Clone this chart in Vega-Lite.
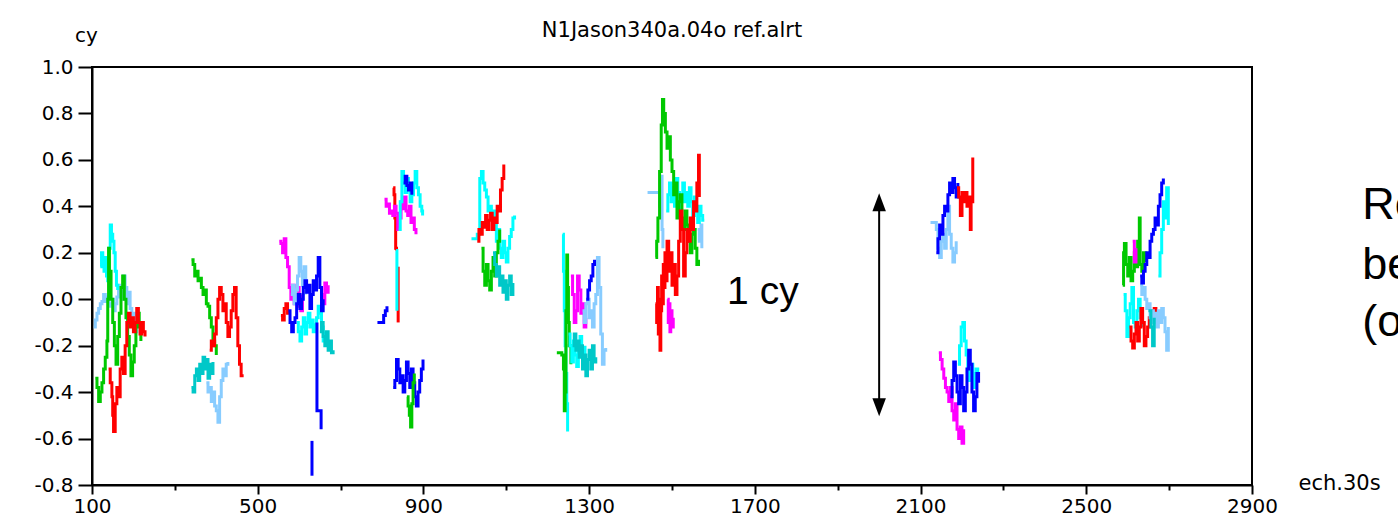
{
"$schema": "https://vega.github.io/schema/vega-lite/v6.json",
"width": 1160, "height": 418,
"autosize": {"type": "none"},
"padding": {"left": 92, "top": 67, "right": 146, "bottom": 38},
"background": "white",
"config": {"view": {"stroke": "black", "strokeWidth": 2}},
"title": {"text": "N1Jason340a.04o ref.alrt", "font": "DejaVu Sans", "fontSize": 21, "fontWeight": "normal", "color": "black", "anchor": "middle", "offset": -16},
"layer": [
{
"data": {"values": [
{"s":"1l","c":"l","x":104,"y":-0.12},{"s":"1l","c":"l","x":108,"y":-0.09},{"s":"1l","c":"l","x":112,"y":-0.06},{"s":"1l","c":"l","x":116,"y":-0.04},{"s":"1l","c":"l","x":120,"y":-0.02},{"s":"1l","c":"l","x":124,"y":-0.01},{"s":"1l","c":"l","x":128,"y":0.02},{"s":"1l","c":"l","x":132,"y":-0.01},{"s":"1l","c":"l","x":136,"y":0.01},{"s":"1l","c":"l","x":140,"y":-0.03},{"s":"1l","c":"l","x":144,"y":-0.02},{"s":"1l","c":"l","x":148,"y":0.0},{"s":"1l","c":"l","x":152,"y":-0.05},{"s":"1l","c":"l","x":156,"y":-0.02},{"s":"1l","c":"l","x":160,"y":0.01},{"s":"1l","c":"l","x":164,"y":0.06},{"s":"1l","c":"l","x":168,"y":0.02},{"s":"1l","c":"l","x":172,"y":0.0},{"s":"1l","c":"l","x":176,"y":0.1},{"s":"1l","c":"l","x":180,"y":0.05},{"s":"1l","c":"l","x":184,"y":-0.02},{"s":"1l","c":"l","x":188,"y":0.03},{"s":"1l","c":"l","x":192,"y":-0.04},{"s":"1l","c":"l","x":196,"y":-0.1},{"s":"1l","c":"l","x":200,"y":-0.06},{"s":"1l","c":"l","x":204,"y":-0.14},{"s":"1l","c":"l","x":208,"y":-0.12},
{"s":"1c","c":"c","x":120,"y":0.14},{"s":"1c","c":"c","x":123,"y":0.2},{"s":"1c","c":"c","x":126,"y":0.16},{"s":"1c","c":"c","x":129,"y":0.12},{"s":"1c","c":"c","x":132,"y":0.18},{"s":"1c","c":"c","x":135,"y":0.1},{"s":"1c","c":"c","x":138,"y":0.08},{"s":"1c","c":"c","x":141,"y":0.22},{"s":"1c","c":"c","x":144,"y":0.32},{"s":"1c","c":"c","x":147,"y":0.28},{"s":"1c","c":"c","x":150,"y":0.25},{"s":"1c","c":"c","x":153,"y":0.2},{"s":"1c","c":"c","x":156,"y":0.12},{"s":"1c","c":"c","x":159,"y":0.06},{"s":"1c","c":"c","x":162,"y":0.04},
{"s":"1g","c":"g","x":108,"y":-0.34},{"s":"1g","c":"g","x":112,"y":-0.38},{"s":"1g","c":"g","x":116,"y":-0.44},{"s":"1g","c":"g","x":120,"y":-0.4},{"s":"1g","c":"g","x":124,"y":-0.36},{"s":"1g","c":"g","x":128,"y":-0.3},{"s":"1g","c":"g","x":132,"y":-0.25},{"s":"1g","c":"g","x":136,"y":-0.18},{"s":"1g","c":"g","x":138,"y":0.0},{"s":"1g","c":"g","x":140,"y":0.22},{"s":"1g","c":"g","x":142,"y":0.12},{"s":"1g","c":"g","x":146,"y":0.0},{"s":"1g","c":"g","x":150,"y":-0.1},{"s":"1g","c":"g","x":154,"y":-0.2},{"s":"1g","c":"g","x":158,"y":-0.28},{"s":"1g","c":"g","x":162,"y":-0.16},{"s":"1g","c":"g","x":166,"y":-0.06},{"s":"1g","c":"g","x":170,"y":0.05},{"s":"1g","c":"g","x":174,"y":0.1},{"s":"1g","c":"g","x":178,"y":0.0},{"s":"1g","c":"g","x":182,"y":-0.08},{"s":"1g","c":"g","x":186,"y":-0.16},{"s":"1g","c":"g","x":190,"y":-0.24},{"s":"1g","c":"g","x":194,"y":-0.33},{"s":"1g","c":"g","x":198,"y":-0.27},{"s":"1g","c":"g","x":202,"y":-0.2},{"s":"1g","c":"g","x":206,"y":-0.12},{"s":"1g","c":"g","x":210,"y":-0.06},{"s":"1g","c":"g","x":214,"y":-0.1},{"s":"1g","c":"g","x":218,"y":-0.18},
{"s":"1r","c":"r","x":140,"y":-0.3},{"s":"1r","c":"r","x":144,"y":-0.36},{"s":"1r","c":"r","x":148,"y":-0.42},{"s":"1r","c":"r","x":150,"y":-0.5},{"s":"1r","c":"r","x":152,"y":-0.57},{"s":"1r","c":"r","x":156,"y":-0.45},{"s":"1r","c":"r","x":160,"y":-0.38},{"s":"1r","c":"r","x":164,"y":-0.42},{"s":"1r","c":"r","x":168,"y":-0.3},{"s":"1r","c":"r","x":172,"y":-0.25},{"s":"1r","c":"r","x":176,"y":-0.32},{"s":"1r","c":"r","x":180,"y":-0.2},{"s":"1r","c":"r","x":184,"y":-0.1},{"s":"1r","c":"r","x":188,"y":-0.06},{"s":"1r","c":"r","x":192,"y":-0.12},{"s":"1r","c":"r","x":196,"y":-0.08},{"s":"1r","c":"r","x":200,"y":-0.14},{"s":"1r","c":"r","x":204,"y":-0.1},{"s":"1r","c":"r","x":208,"y":-0.04},{"s":"1r","c":"r","x":212,"y":-0.1},{"s":"1r","c":"r","x":216,"y":-0.15},{"s":"1r","c":"r","x":220,"y":-0.1},{"s":"1r","c":"r","x":224,"y":-0.14},{"s":"1r","c":"r","x":228,"y":-0.16},
{"s":"2g","c":"g","x":340,"y":0.17},{"s":"2g","c":"g","x":344,"y":0.15},{"s":"2g","c":"g","x":348,"y":0.1},{"s":"2g","c":"g","x":352,"y":0.12},{"s":"2g","c":"g","x":356,"y":0.08},{"s":"2g","c":"g","x":360,"y":0.09},{"s":"2g","c":"g","x":364,"y":0.05},{"s":"2g","c":"g","x":368,"y":0.02},{"s":"2g","c":"g","x":372,"y":0.04},{"s":"2g","c":"g","x":376,"y":-0.02},{"s":"2g","c":"g","x":380,"y":-0.03},{"s":"2g","c":"g","x":384,"y":-0.08},{"s":"2g","c":"g","x":388,"y":-0.12},{"s":"2g","c":"g","x":392,"y":-0.18},{"s":"2g","c":"g","x":396,"y":-0.2},{"s":"2g","c":"g","x":400,"y":-0.24},
{"s":"2r","c":"r","x":384,"y":-0.22},{"s":"2r","c":"r","x":388,"y":-0.18},{"s":"2r","c":"r","x":392,"y":-0.2},{"s":"2r","c":"r","x":396,"y":-0.15},{"s":"2r","c":"r","x":400,"y":-0.08},{"s":"2r","c":"r","x":404,"y":0.0},{"s":"2r","c":"r","x":408,"y":0.05},{"s":"2r","c":"r","x":412,"y":0.02},{"s":"2r","c":"r","x":416,"y":-0.05},{"s":"2r","c":"r","x":420,"y":-0.02},{"s":"2r","c":"r","x":424,"y":-0.1},{"s":"2r","c":"r","x":428,"y":-0.16},{"s":"2r","c":"r","x":432,"y":-0.12},{"s":"2r","c":"r","x":436,"y":-0.05},{"s":"2r","c":"r","x":440,"y":0.02},{"s":"2r","c":"r","x":444,"y":0.05},{"s":"2r","c":"r","x":448,"y":-0.08},{"s":"2r","c":"r","x":452,"y":-0.2},{"s":"2r","c":"r","x":456,"y":-0.28},{"s":"2r","c":"r","x":460,"y":-0.33},{"s":"2r","c":"r","x":466,"y":-0.33},
{"s":"2t","c":"t","x":340,"y":-0.38},{"s":"2t","c":"t","x":344,"y":-0.4},{"s":"2t","c":"t","x":348,"y":-0.33},{"s":"2t","c":"t","x":352,"y":-0.3},{"s":"2t","c":"t","x":356,"y":-0.35},{"s":"2t","c":"t","x":360,"y":-0.28},{"s":"2t","c":"t","x":364,"y":-0.32},{"s":"2t","c":"t","x":368,"y":-0.25},{"s":"2t","c":"t","x":372,"y":-0.3},{"s":"2t","c":"t","x":376,"y":-0.26},{"s":"2t","c":"t","x":380,"y":-0.34},{"s":"2t","c":"t","x":384,"y":-0.28},{"s":"2t","c":"t","x":388,"y":-0.32},{"s":"2t","c":"t","x":392,"y":-0.27},
{"s":"2l","c":"l","x":376,"y":-0.36},{"s":"2l","c":"l","x":380,"y":-0.4},{"s":"2l","c":"l","x":384,"y":-0.38},{"s":"2l","c":"l","x":388,"y":-0.44},{"s":"2l","c":"l","x":392,"y":-0.4},{"s":"2l","c":"l","x":396,"y":-0.46},{"s":"2l","c":"l","x":400,"y":-0.48},{"s":"2l","c":"l","x":404,"y":-0.53},{"s":"2l","c":"l","x":408,"y":-0.42},{"s":"2l","c":"l","x":412,"y":-0.35},{"s":"2l","c":"l","x":416,"y":-0.3},{"s":"2l","c":"l","x":420,"y":-0.33},{"s":"2l","c":"l","x":424,"y":-0.28},{"s":"2l","c":"l","x":428,"y":-0.27},
{"s":"3m1","c":"m","x":552,"y":0.25},{"s":"3m1","c":"m","x":556,"y":0.24},{"s":"3m1","c":"m","x":560,"y":0.2},{"s":"3m1","c":"m","x":564,"y":0.26},{"s":"3m1","c":"m","x":568,"y":0.18},{"s":"3m1","c":"m","x":572,"y":0.14},{"s":"3m1","c":"m","x":576,"y":0.05},{"s":"3m1","c":"m","x":580,"y":0.0},{"s":"3m1","c":"m","x":584,"y":0.06},{"s":"3m1","c":"m","x":588,"y":-0.02},{"s":"3m1","c":"m","x":592,"y":0.02},{"s":"3m1","c":"m","x":596,"y":0.05},{"s":"3m1","c":"m","x":600,"y":-0.03},{"s":"3m1","c":"m","x":604,"y":-0.05},{"s":"3m1","c":"m","x":608,"y":0.02},
{"s":"3m2","c":"m","x":650,"y":0.05},{"s":"3m2","c":"m","x":654,"y":0.02},{"s":"3m2","c":"m","x":658,"y":-0.02},{"s":"3m2","c":"m","x":662,"y":0.07},{"s":"3m2","c":"m","x":666,"y":0.03},{"s":"3m2","c":"m","x":670,"y":0.06},
{"s":"3l","c":"l","x":580,"y":0.02},{"s":"3l","c":"l","x":584,"y":0.06},{"s":"3l","c":"l","x":588,"y":-0.02},{"s":"3l","c":"l","x":592,"y":0.04},{"s":"3l","c":"l","x":596,"y":0.1},{"s":"3l","c":"l","x":600,"y":0.18},{"s":"3l","c":"l","x":604,"y":0.12},{"s":"3l","c":"l","x":608,"y":0.06},{"s":"3l","c":"l","x":612,"y":0.14},{"s":"3l","c":"l","x":616,"y":0.02},
{"s":"3r","c":"r","x":556,"y":-0.07},{"s":"3r","c":"r","x":560,"y":-0.09},{"s":"3r","c":"r","x":564,"y":-0.04},{"s":"3r","c":"r","x":568,"y":-0.02},{"s":"3r","c":"r","x":572,"y":-0.06},{"s":"3r","c":"r","x":576,"y":-0.05},
{"s":"3c","c":"c","x":594,"y":-0.1},{"s":"3c","c":"c","x":598,"y":-0.14},{"s":"3c","c":"c","x":602,"y":-0.18},{"s":"3c","c":"c","x":606,"y":-0.12},{"s":"3c","c":"c","x":610,"y":-0.08},{"s":"3c","c":"c","x":614,"y":-0.15},{"s":"3c","c":"c","x":618,"y":-0.1},{"s":"3c","c":"c","x":622,"y":-0.06},{"s":"3c","c":"c","x":626,"y":-0.12},{"s":"3c","c":"c","x":630,"y":-0.09},{"s":"3c","c":"c","x":634,"y":-0.14},{"s":"3c","c":"c","x":638,"y":-0.11},{"s":"3c","c":"c","x":642,"y":-0.08},{"s":"3c","c":"c","x":646,"y":-0.03},{"s":"3c","c":"c","x":650,"y":-0.06},{"s":"3c","c":"c","x":654,"y":-0.12},{"s":"3c","c":"c","x":658,"y":-0.18},{"s":"3c","c":"c","x":662,"y":-0.14},
{"s":"3b1","c":"b","x":574,"y":-0.05},{"s":"3b1","c":"b","x":578,"y":-0.1},{"s":"3b1","c":"b","x":582,"y":-0.14},{"s":"3b1","c":"b","x":586,"y":-0.1},{"s":"3b1","c":"b","x":590,"y":-0.08},{"s":"3b1","c":"b","x":594,"y":-0.02},{"s":"3b1","c":"b","x":598,"y":0.02},{"s":"3b1","c":"b","x":602,"y":-0.04},{"s":"3b1","c":"b","x":606,"y":0.0},{"s":"3b1","c":"b","x":610,"y":0.05},{"s":"3b1","c":"b","x":614,"y":0.08},{"s":"3b1","c":"b","x":618,"y":0.03},{"s":"3b1","c":"b","x":622,"y":0.06},{"s":"3b1","c":"b","x":626,"y":-0.04},{"s":"3b1","c":"b","x":630,"y":0.02},{"s":"3b1","c":"b","x":634,"y":0.08},{"s":"3b1","c":"b","x":638,"y":0.04},{"s":"3b1","c":"b","x":642,"y":0.1},{"s":"3b1","c":"b","x":646,"y":0.18},{"s":"3b1","c":"b","x":650,"y":0.05},{"s":"3b1","c":"b","x":654,"y":-0.05},{"s":"3b1","c":"b","x":658,"y":0.0},
{"s":"3b2","c":"b","x":643,"y":-0.1},{"s":"3b2","c":"b","x":643,"y":-0.48},{"s":"3b2","c":"b","x":653,"y":-0.49},{"s":"3b2","c":"b","x":653,"y":-0.56},
{"s":"3b3","c":"b","x":631,"y":-0.61},{"s":"3b3","c":"b","x":631,"y":-0.76},
{"s":"3t","c":"t","x":650,"y":-0.14},{"s":"3t","c":"t","x":654,"y":-0.1},{"s":"3t","c":"t","x":658,"y":-0.16},{"s":"3t","c":"t","x":662,"y":-0.2},{"s":"3t","c":"t","x":666,"y":-0.14},{"s":"3t","c":"t","x":670,"y":-0.22},{"s":"3t","c":"t","x":674,"y":-0.18},{"s":"3t","c":"t","x":678,"y":-0.23},{"s":"3t","c":"t","x":682,"y":-0.22},
{"s":"4b0","c":"b","x":789,"y":-0.1},{"s":"4b0","c":"b","x":794,"y":-0.1},{"s":"4b0","c":"b","x":800,"y":-0.1},{"s":"4b0","c":"b","x":804,"y":-0.07},{"s":"4b0","c":"b","x":808,"y":-0.05},{"s":"4b0","c":"b","x":812,"y":-0.03},
{"s":"4r1","c":"r","x":827,"y":0.48},{"s":"4r1","c":"r","x":829,"y":0.45},{"s":"4r1","c":"r","x":831,"y":0.35},{"s":"4r1","c":"r","x":833,"y":0.22},{"s":"4r1","c":"r","x":835,"y":0.21},
{"s":"4r2","c":"r","x":839,"y":0.14},{"s":"4r2","c":"r","x":839,"y":-0.1},
{"s":"4c1","c":"c","x":834,"y":0.21},{"s":"4c1","c":"c","x":836,"y":0.14},{"s":"4c1","c":"c","x":836,"y":-0.05},
{"s":"4m","c":"m","x":806,"y":0.43},{"s":"4m","c":"m","x":810,"y":0.4},{"s":"4m","c":"m","x":814,"y":0.41},{"s":"4m","c":"m","x":818,"y":0.37},{"s":"4m","c":"m","x":822,"y":0.38},{"s":"4m","c":"m","x":826,"y":0.36},{"s":"4m","c":"m","x":830,"y":0.4},{"s":"4m","c":"m","x":834,"y":0.37},{"s":"4m","c":"m","x":838,"y":0.3},{"s":"4m","c":"m","x":842,"y":0.35},{"s":"4m","c":"m","x":846,"y":0.42},{"s":"4m","c":"m","x":850,"y":0.39},{"s":"4m","c":"m","x":854,"y":0.44},{"s":"4m","c":"m","x":858,"y":0.38},{"s":"4m","c":"m","x":862,"y":0.36},{"s":"4m","c":"m","x":866,"y":0.4},{"s":"4m","c":"m","x":870,"y":0.33},{"s":"4m","c":"m","x":874,"y":0.35},{"s":"4m","c":"m","x":878,"y":0.3},{"s":"4m","c":"m","x":882,"y":0.28},
{"s":"4c2","c":"c","x":840,"y":0.3},{"s":"4c2","c":"c","x":844,"y":0.42},{"s":"4c2","c":"c","x":848,"y":0.55},{"s":"4c2","c":"c","x":852,"y":0.5},{"s":"4c2","c":"c","x":856,"y":0.46},{"s":"4c2","c":"c","x":860,"y":0.52},{"s":"4c2","c":"c","x":864,"y":0.48},{"s":"4c2","c":"c","x":868,"y":0.42},{"s":"4c2","c":"c","x":872,"y":0.45},{"s":"4c2","c":"c","x":876,"y":0.5},{"s":"4c2","c":"c","x":880,"y":0.55},{"s":"4c2","c":"c","x":884,"y":0.48},{"s":"4c2","c":"c","x":888,"y":0.45},{"s":"4c2","c":"c","x":892,"y":0.4},{"s":"4c2","c":"c","x":896,"y":0.38},{"s":"4c2","c":"c","x":898,"y":0.36},
{"s":"4b1","c":"b","x":852,"y":0.5},{"s":"4b1","c":"b","x":856,"y":0.53},{"s":"4b1","c":"b","x":860,"y":0.49},{"s":"4b1","c":"b","x":864,"y":0.47},{"s":"4b1","c":"b","x":868,"y":0.5},{"s":"4b1","c":"b","x":872,"y":0.45},
{"s":"4b2","c":"b","x":827,"y":-0.38},{"s":"4b2","c":"b","x":831,"y":-0.35},{"s":"4b2","c":"b","x":835,"y":-0.26},{"s":"4b2","c":"b","x":839,"y":-0.3},{"s":"4b2","c":"b","x":843,"y":-0.36},{"s":"4b2","c":"b","x":847,"y":-0.33},{"s":"4b2","c":"b","x":851,"y":-0.4},{"s":"4b2","c":"b","x":855,"y":-0.35},{"s":"4b2","c":"b","x":859,"y":-0.27},{"s":"4b2","c":"b","x":863,"y":-0.32},{"s":"4b2","c":"b","x":867,"y":-0.38},{"s":"4b2","c":"b","x":871,"y":-0.3},{"s":"4b2","c":"b","x":875,"y":-0.36},{"s":"4b2","c":"b","x":879,"y":-0.42},{"s":"4b2","c":"b","x":883,"y":-0.46},{"s":"4b2","c":"b","x":887,"y":-0.4},{"s":"4b2","c":"b","x":891,"y":-0.35},{"s":"4b2","c":"b","x":895,"y":-0.3},{"s":"4b2","c":"b","x":899,"y":-0.26},
{"s":"4g","c":"g","x":860,"y":-0.42},{"s":"4g","c":"g","x":863,"y":-0.46},{"s":"4g","c":"g","x":866,"y":-0.5},{"s":"4g","c":"g","x":869,"y":-0.55},{"s":"4g","c":"g","x":872,"y":-0.45},{"s":"4g","c":"g","x":875,"y":-0.36},{"s":"4g","c":"g","x":878,"y":-0.32},
{"s":"5c","c":"c","x":1016,"y":0.26},{"s":"5c","c":"c","x":1024,"y":0.26},{"s":"5c","c":"c","x":1030,"y":0.28},{"s":"5c","c":"c","x":1036,"y":0.52},{"s":"5c","c":"c","x":1040,"y":0.55},{"s":"5c","c":"c","x":1044,"y":0.5},{"s":"5c","c":"c","x":1048,"y":0.47},{"s":"5c","c":"c","x":1052,"y":0.44},{"s":"5c","c":"c","x":1056,"y":0.38},{"s":"5c","c":"c","x":1060,"y":0.4},{"s":"5c","c":"c","x":1064,"y":0.35},{"s":"5c","c":"c","x":1068,"y":0.38},{"s":"5c","c":"c","x":1072,"y":0.32},{"s":"5c","c":"c","x":1076,"y":0.25},{"s":"5c","c":"c","x":1080,"y":0.3},{"s":"5c","c":"c","x":1084,"y":0.22},{"s":"5c","c":"c","x":1088,"y":0.18},{"s":"5c","c":"c","x":1092,"y":0.25},{"s":"5c","c":"c","x":1096,"y":0.2},{"s":"5c","c":"c","x":1100,"y":0.16},{"s":"5c","c":"c","x":1104,"y":0.22},{"s":"5c","c":"c","x":1108,"y":0.27},{"s":"5c","c":"c","x":1112,"y":0.3},{"s":"5c","c":"c","x":1116,"y":0.35},{"s":"5c","c":"c","x":1120,"y":0.36},
{"s":"5g","c":"g","x":1040,"y":0.22},{"s":"5g","c":"g","x":1044,"y":0.12},{"s":"5g","c":"g","x":1048,"y":0.06},{"s":"5g","c":"g","x":1052,"y":0.15},{"s":"5g","c":"g","x":1056,"y":0.08},{"s":"5g","c":"g","x":1060,"y":0.04},{"s":"5g","c":"g","x":1064,"y":0.12},{"s":"5g","c":"g","x":1068,"y":0.18},{"s":"5g","c":"g","x":1072,"y":0.1},{"s":"5g","c":"g","x":1076,"y":0.2},{"s":"5g","c":"g","x":1080,"y":0.25},{"s":"5g","c":"g","x":1084,"y":0.3},
{"s":"5r","c":"r","x":1030,"y":0.25},{"s":"5r","c":"r","x":1034,"y":0.3},{"s":"5r","c":"r","x":1038,"y":0.28},{"s":"5r","c":"r","x":1042,"y":0.33},{"s":"5r","c":"r","x":1046,"y":0.31},{"s":"5r","c":"r","x":1050,"y":0.36},{"s":"5r","c":"r","x":1054,"y":0.3},{"s":"5r","c":"r","x":1058,"y":0.34},{"s":"5r","c":"r","x":1062,"y":0.37},{"s":"5r","c":"r","x":1066,"y":0.3},{"s":"5r","c":"r","x":1070,"y":0.35},{"s":"5r","c":"r","x":1074,"y":0.33},{"s":"5r","c":"r","x":1078,"y":0.4},{"s":"5r","c":"r","x":1082,"y":0.38},{"s":"5r","c":"r","x":1086,"y":0.47},{"s":"5r","c":"r","x":1090,"y":0.52},{"s":"5r","c":"r","x":1094,"y":0.58},
{"s":"5t","c":"t","x":1068,"y":0.2},{"s":"5t","c":"t","x":1072,"y":0.15},{"s":"5t","c":"t","x":1076,"y":0.1},{"s":"5t","c":"t","x":1080,"y":0.14},{"s":"5t","c":"t","x":1084,"y":0.06},{"s":"5t","c":"t","x":1088,"y":0.1},{"s":"5t","c":"t","x":1092,"y":0.03},{"s":"5t","c":"t","x":1096,"y":0.08},{"s":"5t","c":"t","x":1100,"y":0.0},{"s":"5t","c":"t","x":1104,"y":0.06},{"s":"5t","c":"t","x":1108,"y":0.1},{"s":"5t","c":"t","x":1112,"y":0.02},{"s":"5t","c":"t","x":1116,"y":0.07},
{"s":"6c1","c":"c","x":1236,"y":0.28},{"s":"6c1","c":"c","x":1238,"y":0.12},{"s":"6c1","c":"c","x":1240,"y":-0.05},{"s":"6c1","c":"c","x":1242,"y":-0.2},{"s":"6c1","c":"c","x":1244,"y":-0.32},{"s":"6c1","c":"c","x":1246,"y":-0.45},{"s":"6c1","c":"c","x":1248,"y":-0.57},
{"s":"6g","c":"g","x":1222,"y":-0.23},{"s":"6g","c":"g","x":1228,"y":-0.23},{"s":"6g","c":"g","x":1234,"y":-0.24},{"s":"6g","c":"g","x":1238,"y":-0.3},{"s":"6g","c":"g","x":1240,"y":-0.48},{"s":"6g","c":"g","x":1242,"y":-0.4},{"s":"6g","c":"g","x":1244,"y":-0.05},{"s":"6g","c":"g","x":1246,"y":0.19},{"s":"6g","c":"g","x":1248,"y":0.05},{"s":"6g","c":"g","x":1250,"y":-0.1},{"s":"6g","c":"g","x":1252,"y":-0.2},{"s":"6g","c":"g","x":1256,"y":-0.28},
{"s":"6c2","c":"c","x":1250,"y":-0.15},{"s":"6c2","c":"c","x":1254,"y":-0.2},{"s":"6c2","c":"c","x":1258,"y":-0.27},{"s":"6c2","c":"c","x":1262,"y":-0.18},{"s":"6c2","c":"c","x":1266,"y":-0.24},{"s":"6c2","c":"c","x":1270,"y":-0.29},{"s":"6c2","c":"c","x":1274,"y":-0.2},{"s":"6c2","c":"c","x":1278,"y":-0.16},{"s":"6c2","c":"c","x":1282,"y":-0.22},{"s":"6c2","c":"c","x":1286,"y":-0.26},{"s":"6c2","c":"c","x":1290,"y":-0.2},
{"s":"6m","c":"m","x":1256,"y":0.1},{"s":"6m","c":"m","x":1260,"y":0.02},{"s":"6m","c":"m","x":1264,"y":-0.1},{"s":"6m","c":"m","x":1268,"y":-0.05},{"s":"6m","c":"m","x":1272,"y":0.1},{"s":"6m","c":"m","x":1276,"y":0.04},{"s":"6m","c":"m","x":1280,"y":-0.06},{"s":"6m","c":"m","x":1284,"y":-0.02},{"s":"6m","c":"m","x":1288,"y":-0.12},{"s":"6m","c":"m","x":1292,"y":-0.08},
{"s":"6t","c":"t","x":1260,"y":-0.2},{"s":"6t","c":"t","x":1264,"y":-0.15},{"s":"6t","c":"t","x":1268,"y":-0.22},{"s":"6t","c":"t","x":1272,"y":-0.18},{"s":"6t","c":"t","x":1276,"y":-0.25},{"s":"6t","c":"t","x":1280,"y":-0.2},{"s":"6t","c":"t","x":1284,"y":-0.3},{"s":"6t","c":"t","x":1288,"y":-0.24},{"s":"6t","c":"t","x":1292,"y":-0.33},{"s":"6t","c":"t","x":1296,"y":-0.26},{"s":"6t","c":"t","x":1300,"y":-0.22},{"s":"6t","c":"t","x":1304,"y":-0.3},{"s":"6t","c":"t","x":1308,"y":-0.2},{"s":"6t","c":"t","x":1312,"y":-0.27},{"s":"6t","c":"t","x":1316,"y":-0.25},
{"s":"6l","c":"l","x":1284,"y":-0.05},{"s":"6l","c":"l","x":1288,"y":-0.1},{"s":"6l","c":"l","x":1292,"y":-0.02},{"s":"6l","c":"l","x":1296,"y":0.0},{"s":"6l","c":"l","x":1300,"y":-0.08},{"s":"6l","c":"l","x":1304,"y":-0.05},{"s":"6l","c":"l","x":1308,"y":-0.12},{"s":"6l","c":"l","x":1312,"y":-0.02},{"s":"6l","c":"l","x":1316,"y":0.02},{"s":"6l","c":"l","x":1320,"y":0.18},{"s":"6l","c":"l","x":1324,"y":0.05},{"s":"6l","c":"l","x":1328,"y":-0.15},{"s":"6l","c":"l","x":1332,"y":-0.28},{"s":"6l","c":"l","x":1336,"y":-0.22},{"s":"6l","c":"l","x":1340,"y":-0.21},
{"s":"6b","c":"b","x":1293,"y":0.0},{"s":"6b","c":"b","x":1297,"y":0.04},{"s":"6b","c":"b","x":1301,"y":0.08},{"s":"6b","c":"b","x":1305,"y":0.1},{"s":"6b","c":"b","x":1309,"y":0.15},{"s":"6b","c":"b","x":1313,"y":0.17},
{"s":"7l1","c":"l","x":1441,"y":0.46},{"s":"7l1","c":"l","x":1450,"y":0.46},{"s":"7l1","c":"l","x":1458,"y":0.46},{"s":"7l1","c":"l","x":1465,"y":0.46},{"s":"7l1","c":"l","x":1470,"y":0.4},{"s":"7l1","c":"l","x":1474,"y":0.53},{"s":"7l1","c":"l","x":1476,"y":0.3},{"s":"7l1","c":"l","x":1478,"y":0.22},
{"s":"7l2","c":"l","x":1562,"y":0.3},{"s":"7l2","c":"l","x":1566,"y":0.25},{"s":"7l2","c":"l","x":1570,"y":0.32},{"s":"7l2","c":"l","x":1572,"y":0.22},
{"s":"7c","c":"c","x":1486,"y":0.38},{"s":"7c","c":"c","x":1490,"y":0.45},{"s":"7c","c":"c","x":1494,"y":0.5},{"s":"7c","c":"c","x":1498,"y":0.42},{"s":"7c","c":"c","x":1502,"y":0.48},{"s":"7c","c":"c","x":1506,"y":0.4},{"s":"7c","c":"c","x":1510,"y":0.52},{"s":"7c","c":"c","x":1514,"y":0.46},{"s":"7c","c":"c","x":1518,"y":0.38},{"s":"7c","c":"c","x":1522,"y":0.44},{"s":"7c","c":"c","x":1526,"y":0.5},{"s":"7c","c":"c","x":1530,"y":0.42},{"s":"7c","c":"c","x":1534,"y":0.46},{"s":"7c","c":"c","x":1538,"y":0.4},{"s":"7c","c":"c","x":1542,"y":0.48},{"s":"7c","c":"c","x":1546,"y":0.42},{"s":"7c","c":"c","x":1550,"y":0.36},{"s":"7c","c":"c","x":1554,"y":0.44},{"s":"7c","c":"c","x":1558,"y":0.38},{"s":"7c","c":"c","x":1562,"y":0.33},{"s":"7c","c":"c","x":1566,"y":0.4},{"s":"7c","c":"c","x":1570,"y":0.36},{"s":"7c","c":"c","x":1574,"y":0.34},{"s":"7c","c":"c","x":1578,"y":0.34},
{"s":"7g","c":"g","x":1460,"y":0.18},{"s":"7g","c":"g","x":1463,"y":0.25},{"s":"7g","c":"g","x":1466,"y":0.35},{"s":"7g","c":"g","x":1470,"y":0.55},{"s":"7g","c":"g","x":1474,"y":0.75},{"s":"7g","c":"g","x":1477,"y":0.86},{"s":"7g","c":"g","x":1480,"y":0.8},{"s":"7g","c":"g","x":1484,"y":0.72},{"s":"7g","c":"g","x":1488,"y":0.65},{"s":"7g","c":"g","x":1492,"y":0.7},{"s":"7g","c":"g","x":1496,"y":0.6},{"s":"7g","c":"g","x":1500,"y":0.55},{"s":"7g","c":"g","x":1504,"y":0.45},{"s":"7g","c":"g","x":1508,"y":0.5},{"s":"7g","c":"g","x":1512,"y":0.35},{"s":"7g","c":"g","x":1516,"y":0.42},{"s":"7g","c":"g","x":1520,"y":0.45},{"s":"7g","c":"g","x":1524,"y":0.35},{"s":"7g","c":"g","x":1528,"y":0.3},{"s":"7g","c":"g","x":1532,"y":0.38},{"s":"7g","c":"g","x":1536,"y":0.32},{"s":"7g","c":"g","x":1540,"y":0.25},{"s":"7g","c":"g","x":1544,"y":0.2},{"s":"7g","c":"g","x":1548,"y":0.28},{"s":"7g","c":"g","x":1552,"y":0.3},{"s":"7g","c":"g","x":1556,"y":0.22},{"s":"7g","c":"g","x":1560,"y":0.15},{"s":"7g","c":"g","x":1564,"y":0.17},
{"s":"7r","c":"r","x":1460,"y":-0.02},{"s":"7r","c":"r","x":1463,"y":-0.1},{"s":"7r","c":"r","x":1465,"y":0.05},{"s":"7r","c":"r","x":1467,"y":-0.15},{"s":"7r","c":"r","x":1469,"y":0.0},{"s":"7r","c":"r","x":1471,"y":-0.22},{"s":"7r","c":"r","x":1473,"y":-0.05},{"s":"7r","c":"r","x":1475,"y":0.1},{"s":"7r","c":"r","x":1477,"y":-0.02},{"s":"7r","c":"r","x":1479,"y":0.15},{"s":"7r","c":"r","x":1481,"y":0.05},{"s":"7r","c":"r","x":1483,"y":0.2},{"s":"7r","c":"r","x":1485,"y":0.08},{"s":"7r","c":"r","x":1488,"y":0.25},{"s":"7r","c":"r","x":1492,"y":0.12},{"s":"7r","c":"r","x":1496,"y":0.2},{"s":"7r","c":"r","x":1500,"y":0.06},{"s":"7r","c":"r","x":1504,"y":0.15},{"s":"7r","c":"r","x":1508,"y":0.02},{"s":"7r","c":"r","x":1512,"y":0.1},{"s":"7r","c":"r","x":1516,"y":0.25},{"s":"7r","c":"r","x":1520,"y":0.38},{"s":"7r","c":"r","x":1524,"y":0.3},{"s":"7r","c":"r","x":1528,"y":0.1},{"s":"7r","c":"r","x":1532,"y":0.2},{"s":"7r","c":"r","x":1536,"y":0.3},{"s":"7r","c":"r","x":1540,"y":0.25},{"s":"7r","c":"r","x":1544,"y":0.35},{"s":"7r","c":"r","x":1548,"y":0.3},{"s":"7r","c":"r","x":1552,"y":0.42},{"s":"7r","c":"r","x":1556,"y":0.38},{"s":"7r","c":"r","x":1560,"y":0.5},{"s":"7r","c":"r","x":1564,"y":0.62},{"s":"7r","c":"r","x":1566,"y":0.44},
{"s":"7m","c":"m","x":1489,"y":0.0},{"s":"7m","c":"m","x":1491,"y":-0.1},{"s":"7m","c":"m","x":1493,"y":-0.02},{"s":"7m","c":"m","x":1495,"y":-0.14},{"s":"7m","c":"m","x":1497,"y":-0.05},{"s":"7m","c":"m","x":1500,"y":-0.12},{"s":"7m","c":"m","x":1503,"y":-0.08},
{"s":"8l","c":"l","x":2124,"y":0.33},{"s":"8l","c":"l","x":2132,"y":0.33},{"s":"8l","c":"l","x":2138,"y":0.3},{"s":"8l","c":"l","x":2142,"y":0.22},{"s":"8l","c":"l","x":2146,"y":0.18},{"s":"8l","c":"l","x":2150,"y":0.25},{"s":"8l","c":"l","x":2154,"y":0.28},{"s":"8l","c":"l","x":2158,"y":0.22},{"s":"8l","c":"l","x":2162,"y":0.3},{"s":"8l","c":"l","x":2166,"y":0.4},{"s":"8l","c":"l","x":2170,"y":0.28},{"s":"8l","c":"l","x":2174,"y":0.22},{"s":"8l","c":"l","x":2178,"y":0.16},{"s":"8l","c":"l","x":2182,"y":0.2},{"s":"8l","c":"l","x":2186,"y":0.25},
{"s":"8bU","c":"b","x":2138,"y":0.2},{"s":"8bU","c":"b","x":2142,"y":0.26},{"s":"8bU","c":"b","x":2146,"y":0.32},{"s":"8bU","c":"b","x":2150,"y":0.28},{"s":"8bU","c":"b","x":2154,"y":0.36},{"s":"8bU","c":"b","x":2158,"y":0.4},{"s":"8bU","c":"b","x":2162,"y":0.38},{"s":"8bU","c":"b","x":2166,"y":0.45},{"s":"8bU","c":"b","x":2170,"y":0.5},{"s":"8bU","c":"b","x":2174,"y":0.46},{"s":"8bU","c":"b","x":2178,"y":0.52},{"s":"8bU","c":"b","x":2182,"y":0.48},{"s":"8bU","c":"b","x":2186,"y":0.44},{"s":"8bU","c":"b","x":2190,"y":0.5},
{"s":"8r","c":"r","x":2188,"y":0.48},{"s":"8r","c":"r","x":2192,"y":0.44},{"s":"8r","c":"r","x":2196,"y":0.36},{"s":"8r","c":"r","x":2200,"y":0.46},{"s":"8r","c":"r","x":2204,"y":0.42},{"s":"8r","c":"r","x":2208,"y":0.46},{"s":"8r","c":"r","x":2212,"y":0.4},{"s":"8r","c":"r","x":2216,"y":0.44},{"s":"8r","c":"r","x":2220,"y":0.3},{"s":"8r","c":"r","x":2222,"y":0.42},{"s":"8r","c":"r","x":2226,"y":0.61},
{"s":"8m","c":"m","x":2144,"y":-0.23},{"s":"8m","c":"m","x":2148,"y":-0.26},{"s":"8m","c":"m","x":2152,"y":-0.3},{"s":"8m","c":"m","x":2156,"y":-0.34},{"s":"8m","c":"m","x":2160,"y":-0.38},{"s":"8m","c":"m","x":2164,"y":-0.4},{"s":"8m","c":"m","x":2168,"y":-0.44},{"s":"8m","c":"m","x":2172,"y":-0.38},{"s":"8m","c":"m","x":2176,"y":-0.48},{"s":"8m","c":"m","x":2180,"y":-0.52},{"s":"8m","c":"m","x":2184,"y":-0.45},{"s":"8m","c":"m","x":2188,"y":-0.56},{"s":"8m","c":"m","x":2192,"y":-0.6},{"s":"8m","c":"m","x":2196,"y":-0.55},{"s":"8m","c":"m","x":2200,"y":-0.62},{"s":"8m","c":"m","x":2204,"y":-0.56},
{"s":"8c","c":"c","x":2190,"y":-0.28},{"s":"8c","c":"c","x":2194,"y":-0.2},{"s":"8c","c":"c","x":2198,"y":-0.12},{"s":"8c","c":"c","x":2202,"y":-0.1},{"s":"8c","c":"c","x":2206,"y":-0.18},{"s":"8c","c":"c","x":2210,"y":-0.24},{"s":"8c","c":"c","x":2214,"y":-0.3},{"s":"8c","c":"c","x":2218,"y":-0.35},{"s":"8c","c":"c","x":2222,"y":-0.28},{"s":"8c","c":"c","x":2226,"y":-0.32},{"s":"8c","c":"c","x":2230,"y":-0.38},{"s":"8c","c":"c","x":2234,"y":-0.3},{"s":"8c","c":"c","x":2238,"y":-0.34},
{"s":"8bL","c":"b","x":2172,"y":-0.42},{"s":"8bL","c":"b","x":2176,"y":-0.35},{"s":"8bL","c":"b","x":2180,"y":-0.27},{"s":"8bL","c":"b","x":2184,"y":-0.33},{"s":"8bL","c":"b","x":2188,"y":-0.4},{"s":"8bL","c":"b","x":2192,"y":-0.45},{"s":"8bL","c":"b","x":2196,"y":-0.33},{"s":"8bL","c":"b","x":2200,"y":-0.38},{"s":"8bL","c":"b","x":2204,"y":-0.48},{"s":"8bL","c":"b","x":2208,"y":-0.4},{"s":"8bL","c":"b","x":2212,"y":-0.3},{"s":"8bL","c":"b","x":2216,"y":-0.22},{"s":"8bL","c":"b","x":2220,"y":-0.28},{"s":"8bL","c":"b","x":2224,"y":-0.4},{"s":"8bL","c":"b","x":2228,"y":-0.48},{"s":"8bL","c":"b","x":2232,"y":-0.42},{"s":"8bL","c":"b","x":2236,"y":-0.32},{"s":"8bL","c":"b","x":2240,"y":-0.36},
{"s":"9g","c":"g","x":2588,"y":0.06},{"s":"9g","c":"g","x":2590,"y":0.2},{"s":"9g","c":"g","x":2592,"y":0.24},{"s":"9g","c":"g","x":2596,"y":0.15},{"s":"9g","c":"g","x":2600,"y":0.1},{"s":"9g","c":"g","x":2604,"y":0.18},{"s":"9g","c":"g","x":2608,"y":0.08},{"s":"9g","c":"g","x":2612,"y":0.12},{"s":"9g","c":"g","x":2616,"y":0.2},{"s":"9g","c":"g","x":2620,"y":0.14},{"s":"9g","c":"g","x":2624,"y":0.25},{"s":"9g","c":"g","x":2628,"y":0.35},{"s":"9g","c":"g","x":2630,"y":0.15},{"s":"9g","c":"g","x":2634,"y":0.12},{"s":"9g","c":"g","x":2638,"y":0.2},{"s":"9g","c":"g","x":2642,"y":0.16},
{"s":"9cL","c":"c","x":2590,"y":0.02},{"s":"9cL","c":"c","x":2594,"y":-0.05},{"s":"9cL","c":"c","x":2598,"y":-0.16},{"s":"9cL","c":"c","x":2602,"y":-0.08},{"s":"9cL","c":"c","x":2606,"y":-0.02},{"s":"9cL","c":"c","x":2610,"y":0.05},{"s":"9cL","c":"c","x":2614,"y":-0.1},{"s":"9cL","c":"c","x":2618,"y":-0.12},{"s":"9cL","c":"c","x":2622,"y":-0.05},{"s":"9cL","c":"c","x":2626,"y":0.0},{"s":"9cL","c":"c","x":2630,"y":-0.08},{"s":"9cL","c":"c","x":2634,"y":-0.12},
{"s":"9r","c":"r","x":2604,"y":-0.12},{"s":"9r","c":"r","x":2608,"y":-0.18},{"s":"9r","c":"r","x":2612,"y":-0.21},{"s":"9r","c":"r","x":2616,"y":-0.15},{"s":"9r","c":"r","x":2620,"y":-0.1},{"s":"9r","c":"r","x":2624,"y":-0.18},{"s":"9r","c":"r","x":2628,"y":-0.12},{"s":"9r","c":"r","x":2632,"y":-0.04},{"s":"9r","c":"r","x":2636,"y":-0.1},{"s":"9r","c":"r","x":2640,"y":-0.2},{"s":"9r","c":"r","x":2644,"y":-0.16},{"s":"9r","c":"r","x":2648,"y":-0.12},{"s":"9r","c":"r","x":2652,"y":-0.08},{"s":"9r","c":"r","x":2656,"y":-0.1},{"s":"9r","c":"r","x":2660,"y":-0.05},{"s":"9r","c":"r","x":2664,"y":-0.04},{"s":"9r","c":"r","x":2668,"y":-0.08},
{"s":"9m","c":"m","x":2612,"y":0.25},{"s":"9m","c":"m","x":2616,"y":0.16},{"s":"9m","c":"m","x":2620,"y":0.22},
{"s":"9l","c":"l","x":2630,"y":0.06},{"s":"9l","c":"l","x":2634,"y":0.02},{"s":"9l","c":"l","x":2638,"y":0.05},{"s":"9l","c":"l","x":2642,"y":0.0},{"s":"9l","c":"l","x":2646,"y":-0.04},{"s":"9l","c":"l","x":2650,"y":-0.02},{"s":"9l","c":"l","x":2654,"y":-0.08},{"s":"9l","c":"l","x":2658,"y":-0.05},{"s":"9l","c":"l","x":2662,"y":-0.1},{"s":"9l","c":"l","x":2666,"y":-0.06},{"s":"9l","c":"l","x":2670,"y":-0.12},{"s":"9l","c":"l","x":2674,"y":-0.05},{"s":"9l","c":"l","x":2678,"y":-0.1},{"s":"9l","c":"l","x":2682,"y":-0.04},{"s":"9l","c":"l","x":2686,"y":-0.08},{"s":"9l","c":"l","x":2690,"y":-0.14},{"s":"9l","c":"l","x":2694,"y":-0.22},{"s":"9l","c":"l","x":2698,"y":-0.12},
{"s":"9t","c":"t","x":2650,"y":-0.05},{"s":"9t","c":"t","x":2656,"y":-0.12},{"s":"9t","c":"t","x":2660,"y":-0.2},{"s":"9t","c":"t","x":2664,"y":-0.08},
{"s":"9b","c":"b","x":2630,"y":0.1},{"s":"9b","c":"b","x":2634,"y":0.07},{"s":"9b","c":"b","x":2638,"y":0.12},{"s":"9b","c":"b","x":2642,"y":0.15},{"s":"9b","c":"b","x":2646,"y":0.2},{"s":"9b","c":"b","x":2650,"y":0.18},{"s":"9b","c":"b","x":2654,"y":0.25},{"s":"9b","c":"b","x":2658,"y":0.28},{"s":"9b","c":"b","x":2662,"y":0.3},{"s":"9b","c":"b","x":2666,"y":0.35},{"s":"9b","c":"b","x":2670,"y":0.32},{"s":"9b","c":"b","x":2674,"y":0.4},{"s":"9b","c":"b","x":2678,"y":0.45},{"s":"9b","c":"b","x":2682,"y":0.5},{"s":"9b","c":"b","x":2686,"y":0.52},
{"s":"9cU","c":"c","x":2674,"y":0.1},{"s":"9cU","c":"c","x":2678,"y":0.2},{"s":"9cU","c":"c","x":2682,"y":0.3},{"s":"9cU","c":"c","x":2686,"y":0.42},{"s":"9cU","c":"c","x":2690,"y":0.35},{"s":"9cU","c":"c","x":2694,"y":0.48},{"s":"9cU","c":"c","x":2698,"y":0.32}
]},
"mark": {"type": "line", "strokeWidth": 3, "interpolate": "step-after"},
"encoding": {
"x": {"field": "x", "type": "quantitative", "scale": {"domain": [100, 2900], "nice": false, "zero": false},
"axis": {"title": "ech.30s", "values": [100,300,500,700,900,1100,1300,1500,1700,1900,2100,2300,2500,2700,2900],
"labelExpr": "(datum.value - 100) % 400 == 0 ? format(datum.value, 'd') : ''",
"tickSize": {"condition": {"test": "(datum.value - 100) % 400 == 0", "value": 9}, "value": 5},
"labelFont": "DejaVu Sans", "labelFontSize": 20, "labelColor": "black", "labelPadding": 2,
"domainColor": "black", "domainWidth": 2, "tickColor": "black", "tickWidth": 2, "grid": false,
"titleFont": "DejaVu Sans", "titleFontSize": 21, "titleFontWeight": "normal", "titleColor": "black",
"titleAlign": "left", "titleBaseline": "alphabetic", "titleX": 1206, "titleY": 4, "labelFlush": false, "labelOverlap": false}},
"y": {"field": "y", "type": "quantitative", "scale": {"domain": [-0.8, 1.0], "nice": false, "zero": false},
"axis": {"title": "cy", "values": [-0.8,-0.7,-0.6,-0.5,-0.4,-0.3,-0.2,-0.1,0,0.1,0.2,0.3,0.4,0.5,0.6,0.7,0.8,0.9,1.0],
"labelExpr": "abs(round(datum.value*10)) % 2 == 0 ? replace(format(datum.value, '.1f'), '\u2212', '-') : ''",
"tickSize": {"condition": {"test": "abs(round(datum.value*10)) % 2 == 0", "value": 14}, "value": 7},
"labelFont": "DejaVu Sans", "labelFontSize": 20, "labelColor": "black", "labelPadding": 5,
"domainColor": "black", "domainWidth": 2, "tickColor": "black", "tickWidth": 2, "grid": false,
"titleFont": "DejaVu Sans", "titleFontSize": 20, "titleFontWeight": "normal", "titleColor": "black",
"titleAngle": 0, "titleAlign": "center", "titleBaseline": "alphabetic", "titleX": -6, "titleY": -26, "labelOverlap": false}},
"color": {"field": "c", "type": "nominal", "legend": null,
"scale": {"domain": ["r","g","b","c","l","m","t"], "range": ["#ff0000","#00c800","#0000ff","#00ffff","#88ccff","#ff00ff","#00c8c8"]}},
"detail": {"field": "s", "type": "nominal"}
}
},
{
"data": {"values": [{"x": 2000, "y": 0.42, "y2": -0.465}]},
"mark": {"type": "rule", "color": "black", "strokeWidth": 2},
"encoding": {"x": {"field": "x", "type": "quantitative"}, "y": {"field": "y", "type": "quantitative"}, "y2": {"field": "y2"}}
},
{
"data": {"values": [{"x": 2000, "y": 0.418, "sh": "M0,-1L0.75,1L-0.75,1Z"}, {"x": 2000, "y": -0.465, "sh": "M0,1L0.75,-1L-0.75,-1Z"}]},
"mark": {"type": "point", "filled": true, "color": "black", "opacity": 1, "size": 324},
"encoding": {"x": {"field": "x", "type": "quantitative"}, "y": {"field": "y", "type": "quantitative"}, "shape": {"field": "sh", "type": "nominal", "scale": null}}
},
{
"data": {"values": [{"x": 1633, "y": -0.02, "t": "1 cy"}]},
"mark": {"type": "text", "font": "Liberation Sans", "fontSize": 39, "align": "left", "baseline": "alphabetic", "color": "black"},
"encoding": {"x": {"field": "x", "type": "quantitative"}, "y": {"field": "y", "type": "quantitative"}, "text": {"field": "t"}}
},
{
"data": {"values": [{"x": 3166, "y": 0.344, "t": "Re"}, {"x": 3166, "y": 0.089, "t": "be"}, {"x": 3166, "y": -0.158, "t": "(o"}]},
"mark": {"type": "text", "font": "Liberation Sans", "fontSize": 45, "align": "left", "baseline": "alphabetic", "color": "black"},
"encoding": {"x": {"field": "x", "type": "quantitative"}, "y": {"field": "y", "type": "quantitative"}, "text": {"field": "t"}}
}
]
}
